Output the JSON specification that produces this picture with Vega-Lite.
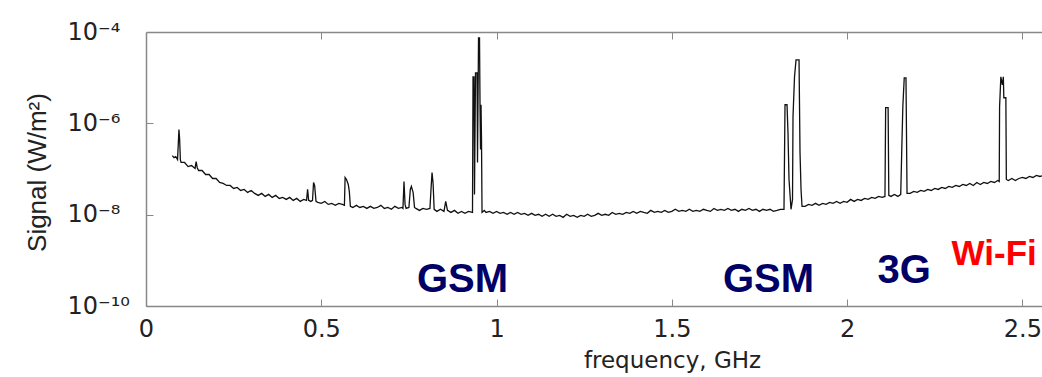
{
  "$schema": "https://vega.github.io/schema/vega-lite/v6.json",
  "width": 896,
  "height": 274,
  "autosize": {"type": "none"},
  "padding": {"left": 146, "top": 32, "right": 0, "bottom": 71},
  "background": "white",
  "config": {"view": {"stroke": null}, "font": "DejaVu Sans"},
  "datasets": {
    "spectrum": [
      {"f":0.075,"s":1.97e-7},{"f":0.08,"s":1.78e-7},{"f":0.085,"s":1.87e-7},{"f":0.09,"s":1.61e-7},{"f":0.092,"s":3.42e-7},{"f":0.094,"s":7.3e-7},{"f":0.096,"s":4.4e-7},{"f":0.098,"s":1.61e-7},
      {"f":0.1,"s":1.39e-7},{"f":0.11,"s":1.39e-7},{"f":0.12,"s":1.13e-7},{"f":0.13,"s":1.19e-7},{"f":0.14,"s":1.03e-7},{"f":0.143,"s":1.46e-7},{"f":0.146,"s":1.08e-7},
      {"f":0.15,"s":9.27e-8},{"f":0.16,"s":9.27e-8},{"f":0.17,"s":7.58e-8},{"f":0.18,"s":7.58e-8},{"f":0.19,"s":6.2e-8},{"f":0.2,"s":6.2e-8},{"f":0.21,"s":5.07e-8},{"f":0.22,"s":4.82e-8},
      {"f":0.23,"s":4.36e-8},{"f":0.24,"s":4.36e-8},{"f":0.25,"s":3.75e-8},{"f":0.26,"s":3.95e-8},{"f":0.27,"s":3.39e-8},{"f":0.28,"s":3.57e-8},{"f":0.29,"s":3.07e-8},{"f":0.3,"s":3.39e-8},
      {"f":0.31,"s":2.92e-8},{"f":0.32,"s":2.64e-8},{"f":0.33,"s":2.92e-8},{"f":0.34,"s":2.51e-8},{"f":0.35,"s":2.78e-8},{"f":0.36,"s":2.39e-8},{"f":0.37,"s":2.64e-8},{"f":0.38,"s":2.27e-8},
      {"f":0.39,"s":2.39e-8},{"f":0.4,"s":2.16e-8},{"f":0.41,"s":2.39e-8},{"f":0.42,"s":2.05e-8},{"f":0.43,"s":2.27e-8},{"f":0.44,"s":1.95e-8},{"f":0.45,"s":2.16e-8},{"f":0.458,"s":2.05e-8},
      {"f":0.461,"s":3.57e-8},{"f":0.464,"s":2.05e-8},{"f":0.47,"s":1.95e-8},{"f":0.475,"s":2.05e-8},{"f":0.478,"s":5.07e-8},{"f":0.481,"s":4.36e-8},{"f":0.485,"s":1.95e-8},{"f":0.49,"s":1.86e-8},
      {"f":0.5,"s":1.77e-8},{"f":0.51,"s":1.95e-8},{"f":0.52,"s":1.68e-8},{"f":0.53,"s":1.77e-8},{"f":0.54,"s":1.6e-8},{"f":0.55,"s":1.77e-8},{"f":0.56,"s":1.68e-8},{"f":0.566,"s":1.6e-8},
      {"f":0.568,"s":6.52e-8},{"f":0.572,"s":5.9e-8},{"f":0.577,"s":4.59e-8},{"f":0.58,"s":3.23e-8},{"f":0.583,"s":1.52e-8},{"f":0.59,"s":1.44e-8},{"f":0.6,"s":1.6e-8},{"f":0.61,"s":1.44e-8},
      {"f":0.62,"s":1.52e-8},{"f":0.63,"s":1.37e-8},{"f":0.64,"s":1.52e-8},{"f":0.65,"s":1.37e-8},{"f":0.66,"s":1.44e-8},{"f":0.67,"s":1.6e-8},{"f":0.68,"s":1.37e-8},{"f":0.69,"s":1.44e-8},
      {"f":0.7,"s":1.31e-8},{"f":0.71,"s":1.52e-8},{"f":0.72,"s":1.37e-8},{"f":0.73,"s":1.44e-8},{"f":0.733,"s":1.37e-8},{"f":0.736,"s":5.33e-8},{"f":0.739,"s":1.68e-8},{"f":0.742,"s":1.37e-8},
      {"f":0.75,"s":1.44e-8},{"f":0.754,"s":3.57e-8},{"f":0.757,"s":4.15e-8},{"f":0.762,"s":3.07e-8},{"f":0.766,"s":1.44e-8},{"f":0.77,"s":1.37e-8},{"f":0.78,"s":1.24e-8},{"f":0.79,"s":1.37e-8},
      {"f":0.8,"s":1.31e-8},{"f":0.81,"s":1.37e-8},{"f":0.813,"s":3.57e-8},{"f":0.816,"s":8.38e-8},{"f":0.819,"s":4.82e-8},{"f":0.822,"s":1.31e-8},{"f":0.83,"s":1.18e-8},{"f":0.84,"s":1.31e-8},
      {"f":0.85,"s":1.18e-8},{"f":0.855,"s":1.95e-8},{"f":0.86,"s":1.24e-8},{"f":0.87,"s":1.12e-8},{"f":0.88,"s":1.24e-8},{"f":0.89,"s":1.07e-8},{"f":0.9,"s":1.18e-8},{"f":0.91,"s":1.07e-8},
      {"f":0.92,"s":1.18e-8},{"f":0.9314,"s":1.12e-8},{"f":0.9329,"s":1.04e-5},{"f":0.9357,"s":1.04e-5},{"f":0.9371,"s":2.78e-8},{"f":0.94,"s":1.27e-5},{"f":0.9443,"s":1.27e-5},{"f":0.9457,"s":1.39e-7},
      {"f":0.9486,"s":7.4e-5},{"f":0.9514,"s":7.4e-5},{"f":0.9529,"s":2.2e-6},{"f":0.9543,"s":2.66e-7},{"f":0.9557,"s":2.55e-6},{"f":0.9571,"s":4.4e-7},{"f":0.9586,"s":1.12e-8},
      {"f":0.965,"s":1.24e-8},{"f":0.97,"s":1.12e-8},{"f":0.98,"s":1.18e-8},{"f":0.99,"s":1.07e-8},{"f":1.0,"s":1.18e-8},{"f":1.01,"s":1.07e-8},{"f":1.02,"s":1.12e-8},{"f":1.03,"s":1.02e-8},
      {"f":1.04,"s":1.12e-8},{"f":1.05,"s":1.02e-8},{"f":1.06,"s":1.12e-8},{"f":1.07,"s":1.02e-8},{"f":1.08,"s":1.07e-8},{"f":1.09,"s":9.66e-9},{"f":1.1,"s":1.07e-8},{"f":1.11,"s":9.66e-9},
      {"f":1.12,"s":1.02e-8},{"f":1.13,"s":9.19e-9},{"f":1.14,"s":1.02e-8},{"f":1.15,"s":9.19e-9},{"f":1.16,"s":1.02e-8},{"f":1.17,"s":9.19e-9},{"f":1.18,"s":9.66e-9},{"f":1.19,"s":8.74e-9},
      {"f":1.2,"s":1.02e-8},{"f":1.21,"s":9.19e-9},{"f":1.22,"s":9.66e-9},{"f":1.23,"s":8.74e-9},{"f":1.24,"s":9.66e-9},{"f":1.25,"s":9.19e-9},{"f":1.26,"s":1.02e-8},{"f":1.27,"s":9.19e-9},
      {"f":1.28,"s":9.66e-9},{"f":1.29,"s":1.07e-8},{"f":1.3,"s":9.66e-9},{"f":1.31,"s":1.02e-8},{"f":1.32,"s":9.66e-9},{"f":1.33,"s":1.12e-8},{"f":1.34,"s":1.02e-8},{"f":1.35,"s":1.07e-8},
      {"f":1.36,"s":1.02e-8},{"f":1.37,"s":1.12e-8},{"f":1.38,"s":1.07e-8},{"f":1.39,"s":1.18e-8},{"f":1.4,"s":1.07e-8},{"f":1.41,"s":1.18e-8},{"f":1.42,"s":1.12e-8},{"f":1.43,"s":1.07e-8},
      {"f":1.44,"s":1.24e-8},{"f":1.45,"s":1.12e-8},{"f":1.46,"s":1.18e-8},{"f":1.47,"s":1.12e-8},{"f":1.48,"s":1.24e-8},{"f":1.49,"s":1.12e-8},{"f":1.5,"s":1.18e-8},{"f":1.51,"s":1.31e-8},
      {"f":1.52,"s":1.18e-8},{"f":1.53,"s":1.24e-8},{"f":1.54,"s":1.18e-8},{"f":1.55,"s":1.31e-8},{"f":1.56,"s":1.18e-8},{"f":1.57,"s":1.24e-8},{"f":1.58,"s":1.18e-8},{"f":1.59,"s":1.31e-8},
      {"f":1.6,"s":1.24e-8},{"f":1.61,"s":1.18e-8},{"f":1.62,"s":1.37e-8},{"f":1.63,"s":1.24e-8},{"f":1.64,"s":1.31e-8},{"f":1.65,"s":1.24e-8},{"f":1.66,"s":1.37e-8},{"f":1.67,"s":1.24e-8},
      {"f":1.68,"s":1.31e-8},{"f":1.69,"s":1.18e-8},{"f":1.7,"s":1.31e-8},{"f":1.71,"s":1.24e-8},{"f":1.72,"s":1.37e-8},{"f":1.73,"s":1.24e-8},{"f":1.74,"s":1.31e-8},{"f":1.75,"s":1.18e-8},
      {"f":1.76,"s":1.31e-8},{"f":1.77,"s":1.24e-8},{"f":1.78,"s":1.31e-8},{"f":1.79,"s":1.18e-8},{"f":1.8,"s":1.24e-8},{"f":1.81,"s":1.31e-8},{"f":1.82,"s":1.31e-8},
      {"f":1.8229,"s":2.55e-6},{"f":1.8286,"s":2.55e-6},{"f":1.8314,"s":6.25e-7},{"f":1.8343,"s":5.9e-8},{"f":1.84,"s":1.31e-8},{"f":1.8443,"s":2.16e-8},{"f":1.8457,"s":1.4e-6},{"f":1.85,"s":1.04e-5},
      {"f":1.8543,"s":2.45e-5},{"f":1.8629,"s":2.45e-5},{"f":1.8657,"s":2.29e-7},{"f":1.8686,"s":3.57e-8},{"f":1.8714,"s":1.52e-8},
      {"f":1.88,"s":1.52e-8},{"f":1.89,"s":1.68e-8},{"f":1.9,"s":1.6e-8},{"f":1.91,"s":1.77e-8},{"f":1.92,"s":1.6e-8},{"f":1.93,"s":1.77e-8},{"f":1.94,"s":1.68e-8},{"f":1.95,"s":1.86e-8},
      {"f":1.96,"s":1.77e-8},{"f":1.97,"s":1.95e-8},{"f":1.98,"s":1.77e-8},{"f":1.99,"s":1.95e-8},{"f":2.0,"s":1.86e-8},{"f":2.01,"s":2.16e-8},{"f":2.02,"s":1.95e-8},{"f":2.03,"s":2.16e-8},
      {"f":2.04,"s":2.05e-8},{"f":2.05,"s":2.27e-8},{"f":2.06,"s":2.16e-8},{"f":2.07,"s":2.39e-8},{"f":2.08,"s":2.27e-8},{"f":2.09,"s":2.51e-8},{"f":2.1,"s":2.39e-8},{"f":2.108,"s":2.51e-8},
      {"f":2.11,"s":2.2e-6},{"f":2.117,"s":2.2e-6},{"f":2.119,"s":2.64e-8},{"f":2.125,"s":2.51e-8},{"f":2.135,"s":2.78e-8},{"f":2.145,"s":2.51e-8},{"f":2.153,"s":2.78e-8},
      {"f":2.156,"s":2.66e-7},{"f":2.159,"s":2.31e-6},{"f":2.163,"s":9.9e-6},{"f":2.168,"s":9.9e-6},{"f":2.171,"s":2.92e-8},
      {"f":2.18,"s":2.92e-8},{"f":2.19,"s":3.23e-8},{"f":2.2,"s":3.07e-8},{"f":2.21,"s":3.39e-8},{"f":2.22,"s":3.23e-8},{"f":2.23,"s":3.57e-8},{"f":2.24,"s":3.39e-8},{"f":2.25,"s":3.75e-8},
      {"f":2.26,"s":3.57e-8},{"f":2.27,"s":3.95e-8},{"f":2.28,"s":3.75e-8},{"f":2.29,"s":4.15e-8},{"f":2.3,"s":3.95e-8},{"f":2.31,"s":4.36e-8},{"f":2.32,"s":4.15e-8},{"f":2.33,"s":4.59e-8},
      {"f":2.34,"s":4.36e-8},{"f":2.35,"s":4.82e-8},{"f":2.36,"s":4.36e-8},{"f":2.37,"s":5.07e-8},{"f":2.38,"s":4.59e-8},{"f":2.39,"s":5.07e-8},{"f":2.4,"s":4.82e-8},{"f":2.41,"s":5.33e-8},
      {"f":2.42,"s":5.07e-8},{"f":2.43,"s":5.61e-8},{"f":2.434,"s":5.33e-8},
      {"f":2.435,"s":2.31e-6},{"f":2.4386,"s":1.04e-5},{"f":2.4429,"s":6.97e-6},{"f":2.4457,"s":1.04e-5},{"f":2.4471,"s":3.63e-6},{"f":2.4529,"s":3.63e-6},{"f":2.4543,"s":5.9e-8},
      {"f":2.46,"s":5.61e-8},{"f":2.47,"s":6.2e-8},{"f":2.48,"s":5.61e-8},{"f":2.49,"s":6.2e-8},{"f":2.5,"s":6.52e-8},{"f":2.51,"s":6.2e-8},{"f":2.52,"s":6.86e-8},{"f":2.53,"s":6.52e-8},
      {"f":2.54,"s":7.21e-8},{"f":2.55,"s":6.86e-8},{"f":2.56,"s":7.21e-8}
    ]
  },
  "layer": [
    {
      "data": {"name": "spectrum"},
      "mark": {"type": "line", "color": "#111111", "strokeWidth": 1.3, "clip": true},
      "encoding": {
        "x": {
          "field": "f", "type": "quantitative",
          "scale": {"domain": [0, 2.556], "nice": false, "zero": false},
          "axis": {
            "orient": "bottom", "values": [0, 0.5, 1, 1.5, 2, 2.5], "format": "~g",
            "grid": false, "tickSize": -7, "tickColor": "#888888", "domainColor": "#888888", "domainWidth": 1.5,
            "labelFont": "DejaVu Sans", "labelFontSize": 24, "labelColor": "#222222", "labelPadding": 18,
            "labelFlush": false, "labelOverlap": false,
            "title": "frequency, GHz", "titleFont": "DejaVu Sans", "titleFontSize": 23, "titleFontWeight": "normal",
            "titleColor": "#222222", "titleX": 526, "titleY": 61, "titleAlign": "center", "titleBaseline": "alphabetic"
          }
        },
        "y": {
          "field": "s", "type": "quantitative",
          "scale": {"type": "log", "domain": [1e-10, 1e-4], "nice": false},
          "axis": {
            "orient": "left", "values": [1e-10, 1e-8, 1e-6, 1e-4],
            "labelExpr": "datum.value > 5e-5 ? '10⁻⁴' : datum.value > 5e-7 ? '10⁻⁶' : datum.value > 5e-9 ? '10⁻⁸' : '10⁻¹⁰'",
            "grid": false, "tickSize": -7, "tickColor": "#888888", "domainColor": "#888888", "domainWidth": 1.5,
            "labelFont": "DejaVu Sans", "labelFontSize": 24, "labelColor": "#222222", "labelAlign": "left", "labelBaseline": "middle",
            "labelPadding": 86, "labelOverlap": false,
            "title": "Signal (W/m²)", "titleFont": "Liberation Sans", "titleFontSize": 26, "titleFontWeight": "normal",
            "titleColor": "#222222", "titleX": -101, "titleY": 140, "titleAngle": 270, "titleAlign": "center", "titleBaseline": "alphabetic"
          }
        }
      }
    },
    {
      "data": {"values": [
        {"f": 0.903, "s": 2.03e-10, "label": "GSM"},
        {"f": 1.776, "s": 2.03e-10, "label": "GSM"},
        {"f": 2.163, "s": 3.19e-10, "label": "3G"}
      ]},
      "mark": {"type": "text", "font": "Liberation Sans", "fontWeight": "bold", "fontSize": 40, "color": "#000066", "align": "center", "baseline": "alphabetic"},
      "encoding": {
        "x": {
          "field": "f", "type": "quantitative",
          "axis": {"orient": "top", "values": [0.5, 1, 1.5, 2, 2.5], "labels": false, "title": null, "grid": false,
                   "tickSize": -7, "tickColor": "#888888", "domainColor": "#888888", "domainWidth": 1.5}
        },
        "y": {"field": "s", "type": "quantitative"},
        "text": {"field": "label"}
      }
    },
    {
      "data": {"values": [
        {"f": 2.298, "s": 7.9e-10, "label": "Wi-Fi"}
      ]},
      "mark": {"type": "text", "font": "Liberation Sans", "fontWeight": "bold", "fontSize": 35, "color": "#ff0000", "align": "left", "baseline": "alphabetic"},
      "encoding": {
        "x": {"field": "f", "type": "quantitative", "axis": null},
        "y": {"field": "s", "type": "quantitative"},
        "text": {"field": "label"}
      }
    }
  ],
  "resolve": {"axis": {"x": "independent"}}
}
